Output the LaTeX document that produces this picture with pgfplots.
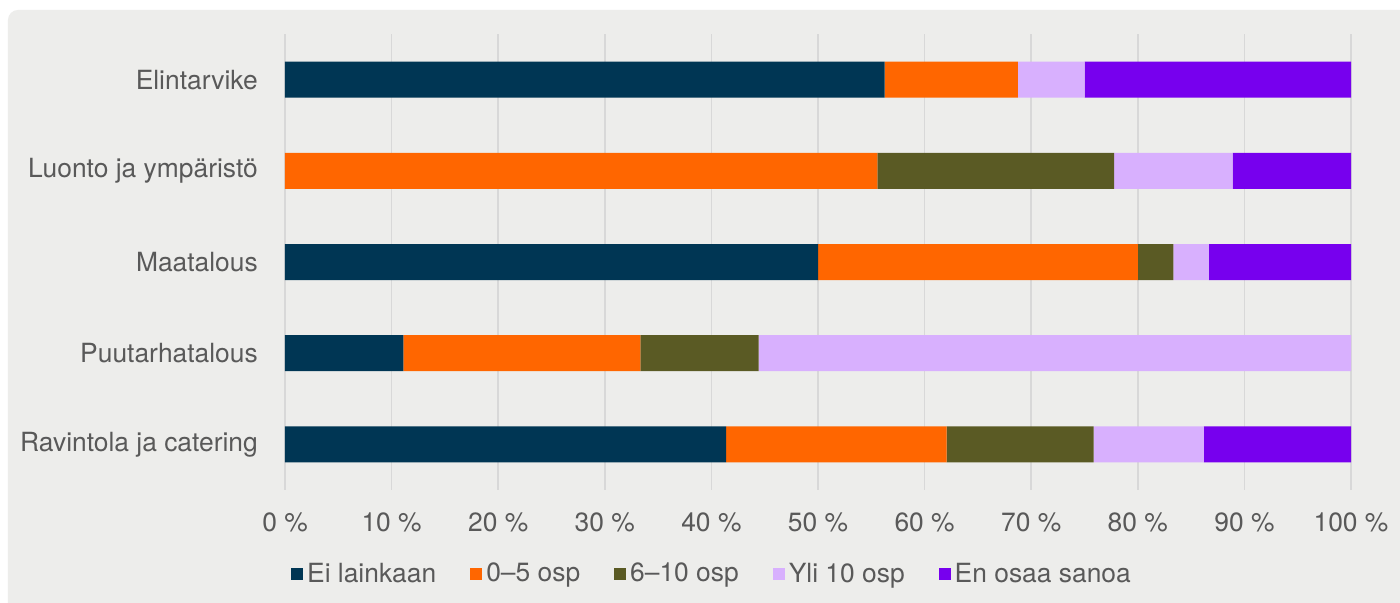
\documentclass[border=0pt]{standalone}
\usepackage{pgfplots}
\pgfplotsset{compat=1.18}
\usepackage{fontspec}
\setmainfont{TeX Gyre Heros}
\definecolor{panel}{HTML}{EDEDEB}
\definecolor{cA}{HTML}{003654}
\definecolor{cB}{HTML}{FF6600}
\definecolor{cC}{HTML}{5A5A24}
\definecolor{cD}{HTML}{D8B0FE}
\definecolor{cE}{HTML}{7700EE}
\definecolor{txt}{HTML}{595959}
\definecolor{gridc}{HTML}{D8D8D8}
\newcommand{\cfont}{\fontsize{13.2pt}{15pt}\selectfont}
\begin{document}
\cfont
\begin{tikzpicture}
\useasboundingbox (-142.5pt,-56.5pt) rectangle (557.5pt,245pt);
\fill[white] (-142.5pt,-56.5pt) rectangle (557.5pt,245pt);
\fill[panel, rounded corners=5pt] (-138.5pt,-70pt) rectangle (570pt,240pt);
\begin{axis}[
  at={(0,0)}, anchor=south west,
  scale only axis, width=533pt, height=228pt,
  xbar stacked, bar width=18pt,
  xmin=0, xmax=100, ymin=-0.5, ymax=4.5, y dir=reverse,
  ytick={0,1,2,3,4},
  yticklabels={Elintarvike, Luonto ja ympäristö, Maatalous, Puutarhatalous, Ravintola ja catering},
  xtick={0,10,...,100},
  xticklabel={\pgfmathprintnumber{\tick}~\%},
  /pgf/number format/assume math mode=true,
  axis line style={draw=none}, tick style={draw=none},
  xmajorgrids, grid style={gridc, line width=0.75pt},
  ticklabel style={txt, font=\cfont},
  xticklabel style={yshift=-7pt},
  yticklabel style={xshift=-9pt},
  legend columns=5,
  legend style={at={(0.4015,-0.185)}, anchor=center, draw=none, fill=none,
    font=\cfont, text=txt,
    /tikz/every even column/.append style={column sep=15pt},
    /tikz/every odd column/.append style={column sep=0pt}},
  legend image code/.code={\fill[#1,draw=none] (-1pt,-3pt) rectangle (5pt,3pt);},
]
\addplot[fill=cA, draw=none] coordinates {(56.25,0) (0,1) (50,2) (11.11,3) (41.38,4)};
\addplot[fill=cB, draw=none] coordinates {(12.5,0) (55.56,1) (30,2) (22.22,3) (20.69,4)};
\addplot[fill=cC, draw=none] coordinates {(0,0) (22.22,1) (3.33,2) (11.11,3) (13.79,4)};
\addplot[fill=cD, draw=none] coordinates {(6.25,0) (11.11,1) (3.33,2) (55.56,3) (10.34,4)};
\addplot[fill=cE, draw=none] coordinates {(25,0) (11.11,1) (13.34,2) (0,3) (13.80,4)};
\legend{Ei lainkaan, 0–5 osp, 6–10 osp, Yli 10 osp, En osaa sanoa}
\end{axis}
\end{tikzpicture}
\end{document}
